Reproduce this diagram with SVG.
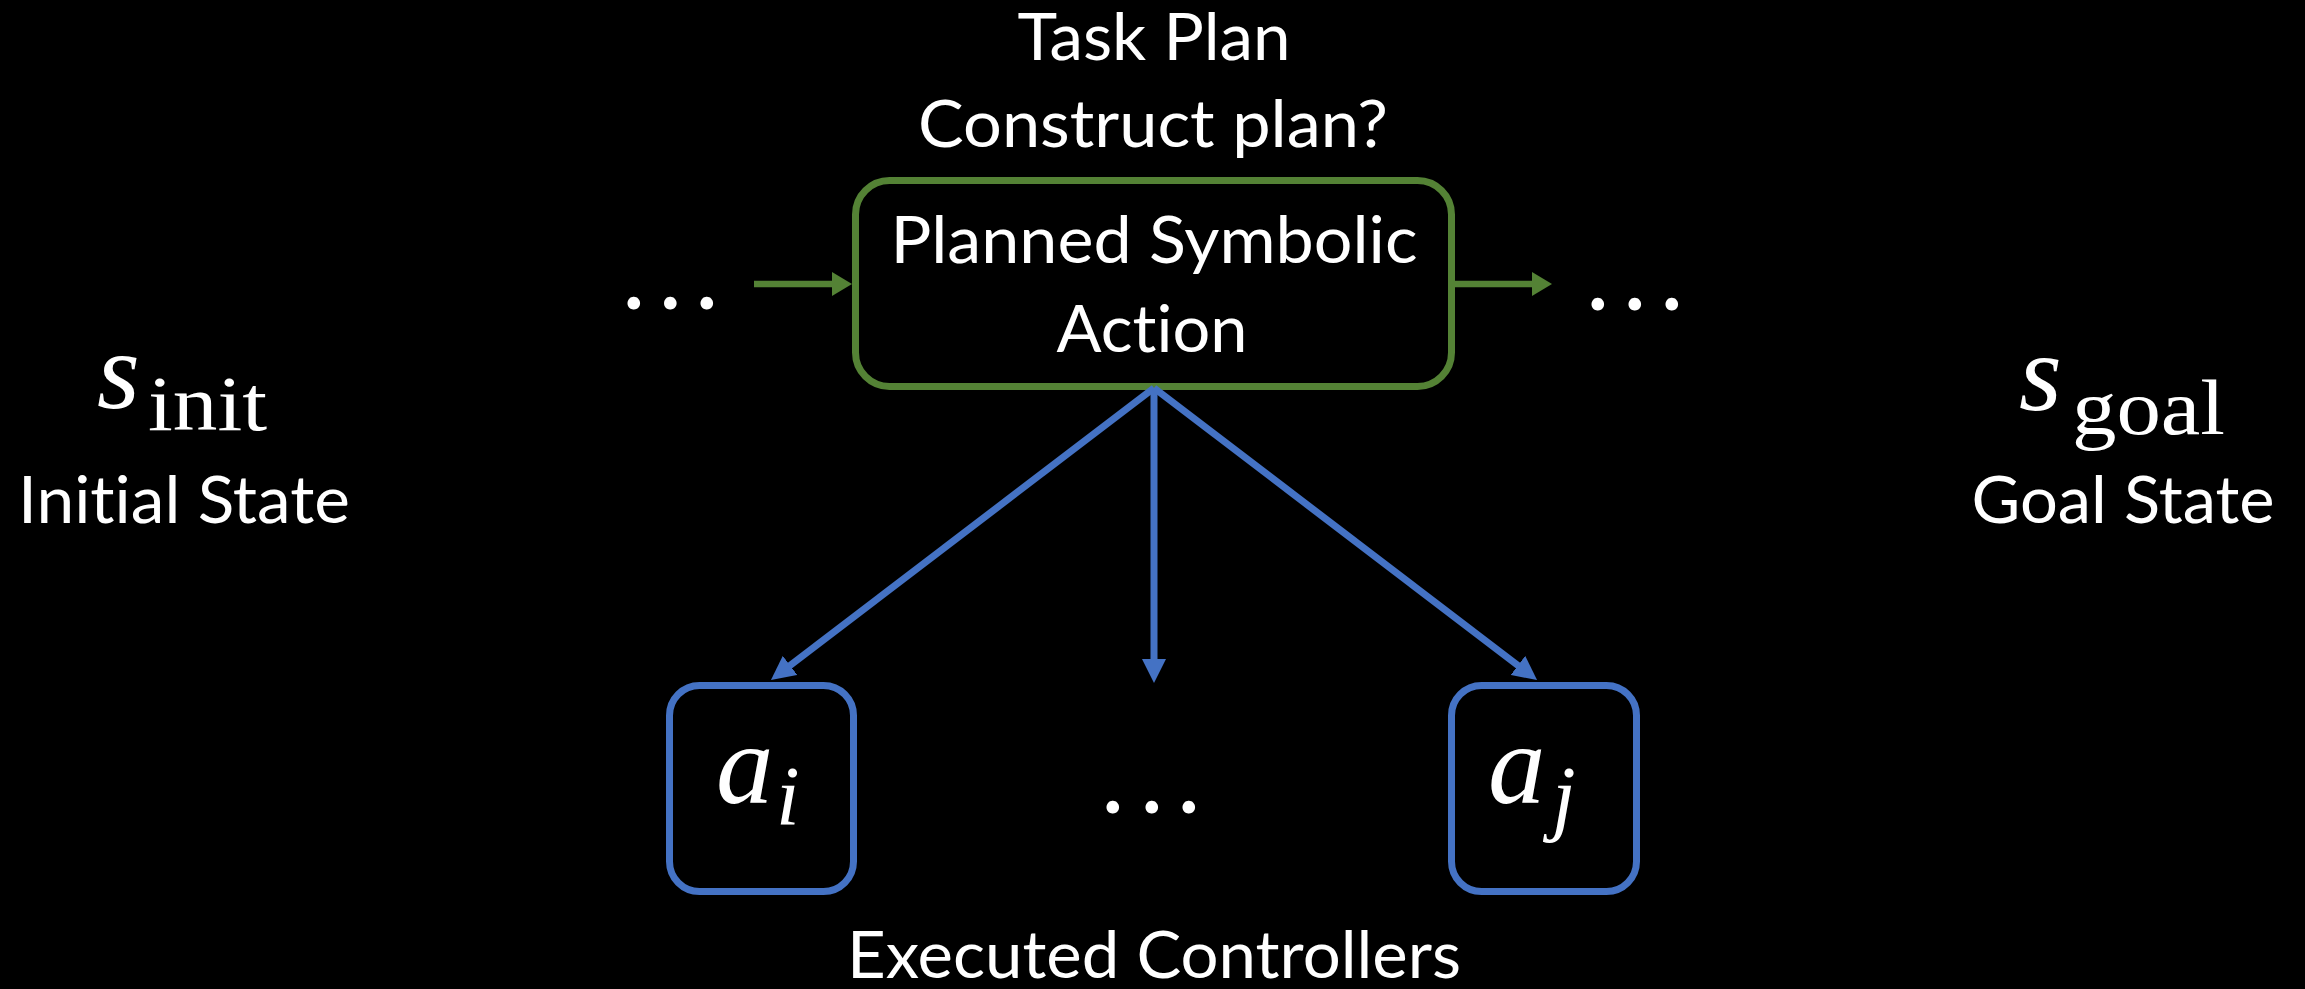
<svg xmlns="http://www.w3.org/2000/svg" width="2305" height="989" viewBox="0 0 2305 989">
  <style>
    .lbl { font-family: Lato, "Open Sans", "Liberation Sans", sans-serif; font-size: 65px; fill: #ffffff; text-anchor: middle; font-variant-ligatures: none; font-feature-settings: "liga" 0, "clig" 0; }
    .dots { font-family: Lato, "Open Sans", "Liberation Sans", sans-serif; font-size: 100px; fill: #ffffff; }
    .math { font-family: "Liberation Serif", "DejaVu Serif", serif; fill: #ffffff; }
    .mi { font-style: italic; }
    .plan { fill: none; stroke: #548235; stroke-width: 7; }
    .ctrl { fill: none; stroke: #4472C4; stroke-width: 7; }
    .gline { fill: none; stroke: #548235; stroke-width: 6.5; }
    .bline { fill: none; stroke: #4472C4; stroke-width: 7; }
  </style>
  <defs>
    <marker id="ahG" markerUnits="userSpaceOnUse" viewBox="0 0 20 24" markerWidth="20" markerHeight="24" refX="10" refY="12" orient="auto">
      <path d="M0,0 L20,12 L0,24 z" fill="#548235"/>
    </marker>
    <marker id="ahB" markerUnits="userSpaceOnUse" viewBox="0 0 24 24" markerWidth="24" markerHeight="24" refX="12" refY="12" orient="auto">
      <path d="M0,0 L24,12 L0,24 z" fill="#4472C4"/>
    </marker>
  </defs>
  <rect width="2305" height="989" fill="#000000"/>

  <g id="title">
    <text class="lbl" x="1154" y="60" textLength="273" lengthAdjust="spacingAndGlyphs">Task Plan</text>
    <text class="lbl" x="1153" y="147" textLength="470" lengthAdjust="spacingAndGlyphs">Construct plan?</text>
  </g>

  <g id="init-state">
    <text class="math" y="408"><tspan class="mi" x="97" font-size="110">s</tspan><tspan x="148" y="430" font-size="78" textLength="119" lengthAdjust="spacingAndGlyphs">init</tspan></text>
    <text class="lbl" x="184" y="523" textLength="332" lengthAdjust="spacingAndGlyphs">Initial State</text>
  </g>

  <g id="goal-state">
    <text class="math" y="410"><tspan class="mi" x="2019" font-size="110">s</tspan><tspan x="2072" y="434" font-size="78" textLength="153" lengthAdjust="spacingAndGlyphs">goal</tspan></text>
    <text class="lbl" x="2123" y="523" textLength="303" lengthAdjust="spacingAndGlyphs">Goal State</text>
  </g>

  <g id="prev-dots">
    <text class="dots" x="622 658.5 695" y="309">...</text>
  </g>
  <g id="next-dots">
    <text class="dots" x="1586 1623 1660" y="310">...</text>
  </g>

  <g id="planned-action">
    <rect class="plan" x="855.5" y="180.5" width="596" height="206" rx="34"/>
    <text class="lbl" x="1154" y="263" textLength="527" lengthAdjust="spacingAndGlyphs">Planned Symbolic</text>
    <text class="lbl" x="1152" y="352" textLength="191" lengthAdjust="spacingAndGlyphs">Action</text>
  </g>

  <g id="controller-i">
    <rect class="ctrl" x="669.5" y="685.5" width="184" height="206" rx="30"/>
    <text class="math" y="803"><tspan class="mi" x="716" font-size="115">a</tspan><tspan class="mi" x="776" y="825" font-size="85">i</tspan></text>
  </g>

  <g id="controller-dots">
    <text class="dots" x="1101 1140 1177" y="813">...</text>
  </g>

  <g id="controller-j">
    <rect class="ctrl" x="1451.5" y="685.5" width="185" height="206" rx="30"/>
    <text class="math" y="803"><tspan class="mi" x="1488" font-size="115">a</tspan><tspan class="mi" x="1552" y="825" font-size="85">j</tspan></text>
  </g>

  <g id="executed-label">
    <text class="lbl" x="1154" y="978" textLength="614" lengthAdjust="spacingAndGlyphs">Executed Controllers</text>
  </g>

  <g id="connectors">
    <line class="gline" x1="754" y1="284" x2="842" y2="284" marker-end="url(#ahG)"/>
    <line class="gline" x1="1455" y1="284" x2="1542" y2="284" marker-end="url(#ahG)"/>
    <line class="bline" x1="1154" y1="388" x2="780.5" y2="672.7" marker-end="url(#ahB)"/>
    <line class="bline" x1="1154" y1="388" x2="1154" y2="671" marker-end="url(#ahB)"/>
    <line class="bline" x1="1154" y1="388" x2="1527.5" y2="672.7" marker-end="url(#ahB)"/>
  </g>
</svg>
